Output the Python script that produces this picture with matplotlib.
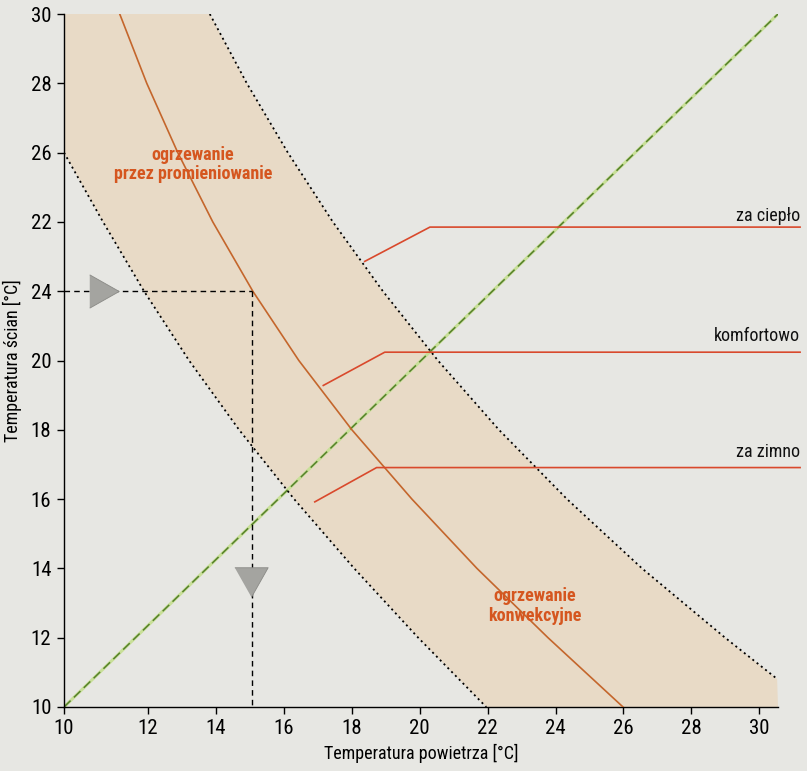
import matplotlib
matplotlib.use("Agg")
import matplotlib.pyplot as plt
from matplotlib import font_manager
from matplotlib.font_manager import FontProperties

# ---------------- data ----------------
x_tick_pos = [9.525, 12, 14, 16, 18, 20, 22, 24, 26, 28, 30]
x_tick_labels = ["10", "12", "14", "16", "18", "20", "22", "24", "26", "28", "30"]
y_tick_pos = [10, 12, 14, 16, 18, 20, 22, 24, 26, 28, 30]
y_tick_labels = ["10", "12", "14", "16", "18", "20", "24", "22", "26", "28", "30"]

left_x = [9.525, 10.674, 11.882, 13.208, 14.681, 16.302, 18.07, 19.955, 21.959]
left_y = [26, 24, 22, 20, 18, 16, 14, 12, 10]
right_x = [13.818, 14.908, 16.116, 17.442, 18.915, 20.536, 22.333, 24.337, 26.546, 28.992, 30.524]
right_y = [30, 28, 26, 24, 22, 20, 18, 16, 14, 12, 10.81]
mid_x = [11.166, 11.962, 12.875, 13.906, 15.085, 16.44, 18.002, 19.77, 21.685, 23.777, 25.986]
mid_y = [30, 28, 26, 24, 22, 20, 18, 16, 14, 12, 10]
green_x = [9.525, 30.55]
green_y = [10, 30]

cat_names = ["za ciepło", "komfortowo", "za zimno"]
cat_line_x = [[18.38, 20.3, 31.2], [17.16, 18.97, 31.2], [16.91, 18.73, 31.2]]
cat_line_y = [[22.86, 23.85, 23.85], [19.28, 20.24, 20.24], [15.92, 16.91, 16.91]]
cat_text_y = [24.18, 20.71, 17.36]

example_x = 15.06
example_y = 22
arrow_right = (10.69, 22)
arrow_down = (15.03, 13.61)

xmin, xmax, ymin, ymax = 9.525, 30.55, 10, 30

# ---------------- fonts ----------------
def find_font(bold=False):
    entries = font_manager.fontManager.ttflist
    def is_bold(f):
        w = f.weight
        if isinstance(w, str):
            return w.lower() in ("bold", "demibold", "semibold", "heavy", "black", "extra bold")
        return w >= 600
    prefs = ["Liberation Sans Narrow", "Roboto Condensed", "Open Sans Condensed",
             "Noto Sans Condensed", "Arial Narrow", "DejaVu Sans Condensed"]
    cands = []
    for f in entries:
        nm = f.name
        cond = ("Narrow" in nm or "Condensed" in nm or
                str(f.stretch).lower() in ("condensed", "semi-condensed", "extra-condensed") or
                (isinstance(f.stretch, int) and f.stretch <= 87))
        if not cond:
            continue
        if f.style != "normal":
            continue
        if is_bold(f) != bold:
            continue
        rank = len(prefs)
        for i, p in enumerate(prefs):
            if nm.startswith(p.split()[0]) and ("Narrow" in p or "Condensed" in p):
                rank = min(rank, i)
        cands.append((rank, "Semi" in f.fname, f.fname))
    if cands:
        cands.sort()
        return FontProperties(fname=cands[0][2])
    return FontProperties(family="Liberation Sans", weight="bold" if bold else "normal")

fp_reg = find_font(False)
fp_bold = find_font(True)

def fpz(base, size):
    p = base.copy()
    p.set_size(size)
    return p

bg = "#e7e7e3"
band = "#e8dac6"
orange_line = "#c4662c"
orange_text = "#d5561f"
red_line = "#d9492c"

fig = plt.figure(figsize=(8.07, 7.71), dpi=100, facecolor=bg)
ax = fig.add_axes([64 / 807, 64 / 771, (778 - 64) / 807, (707 - 14) / 771])
ax.set_facecolor(bg)

poly_x = [xmin] + left_x + [xmax] + right_x[::-1] + [xmin]
poly_y = [ymax] + left_y + [ymin] + right_y[::-1] + [ymax]
ax.fill(poly_x, poly_y, color=band, lw=0, zorder=1)

ax.plot(left_x, left_y, color="black", ls=(0, (1.1, 1.9)), lw=1.3, zorder=3)
ax.plot(right_x, right_y, color="black", ls=(0, (1.1, 1.9)), lw=1.3, zorder=3)
ax.plot(mid_x, mid_y, color=orange_line, lw=1.2, zorder=3, solid_joinstyle="round")

ax.plot(green_x, green_y, color="#c8df98", lw=2.2, zorder=2, solid_capstyle='butt')
ax.plot(green_x, green_y, color="#55802a", lw=1.1, ls=(0, (6, 3)), zorder=2)

ax.plot([xmin, example_x], [example_y, example_y], color="black", lw=1.0, ls=(0, (4, 3)), zorder=4)
ax.plot([example_x, example_x], [example_y, ymin], color="black", lw=1.0, ls=(0, (4, 3)), zorder=4)
ax.plot(*arrow_right, marker=[(-1, -1.13), (1, 0), (-1, 1.13)], ms=24, color="#a4a4a0",
        mec="#8a8a86", mew=0.6, zorder=5, clip_on=False)
ax.plot(*arrow_down, marker=[(-1.13, 1), (1.13, 1), (0, -1)], ms=24, color="#a4a4a0",
        mec="#8a8a86", mew=0.6, zorder=5, clip_on=False)

for name, lx, ly, ty in zip(cat_names, cat_line_x, cat_line_y, cat_text_y):
    ax.plot(lx, ly, color=red_line, lw=1.2, zorder=4, clip_on=False)
    ax.text(lx[-1], ty, name, ha="right", va="center", fontproperties=fpz(fp_reg, 13),
            color="#111111", clip_on=False)

ax.text(13.32, 25.66, "ogrzewanie\nprzez promieniowanie", ha="center", va="center",
        fontproperties=fpz(fp_bold, 13), color=orange_text, linespacing=1.1, zorder=6)
ax.text(23.39, 12.92, "ogrzewanie\nkonwekcyjne", ha="center", va="center",
        fontproperties=fpz(fp_bold, 13), color=orange_text, linespacing=1.1, zorder=6)

ax.set_xlim(xmin, xmax)
ax.set_ylim(ymin, ymax)
ax.set_xticks(x_tick_pos)
ax.set_xticklabels(x_tick_labels, fontproperties=fpz(fp_reg, 15))
ax.set_yticks(y_tick_pos)
ax.set_yticklabels(y_tick_labels, fontproperties=fpz(fp_reg, 15))
ax.tick_params(direction="out", length=5, width=1, colors="black", pad=4)
for s in ["top", "right"]:
    ax.spines[s].set_visible(False)
for s in ["left", "bottom"]:
    ax.spines[s].set_linewidth(1.0)
    ax.spines[s].set_color("black")

ax.set_xlabel("Temperatura powietrza [°C]", fontproperties=fpz(fp_reg, 13), labelpad=4)
ax.set_ylabel("Temperatura ścian [°C]", fontproperties=fpz(fp_reg, 13), labelpad=6)

fig.savefig("out.png", dpi=100, facecolor=bg)
